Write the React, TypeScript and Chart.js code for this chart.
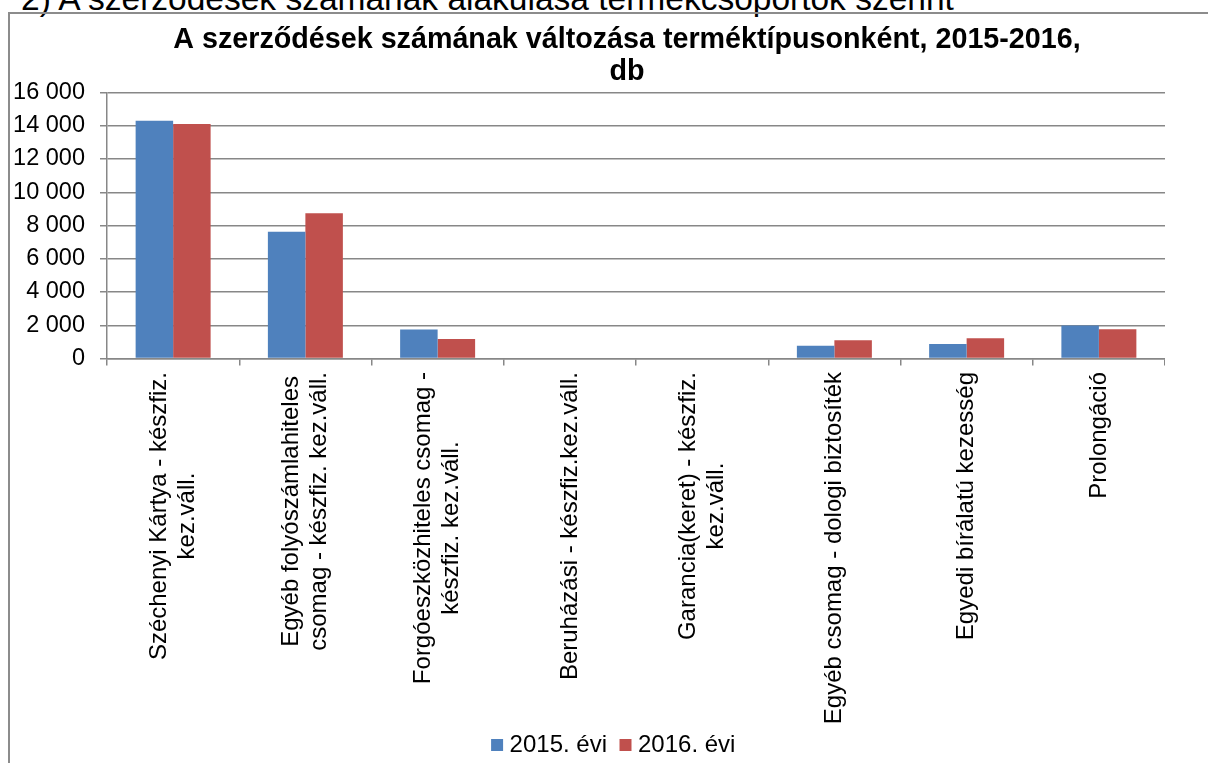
import React, { useEffect, useRef } from "react";
import { Chart, registerables } from "chart.js";

Chart.register(...registerables);

const caption = "2) A szerződések számának alakulása termékcsoportok szerint";
const titleLines = ["A szerződések számának változása terméktípusonként, 2015-2016,", "db"];
const categories: string[][] = [
  ["Széchenyi Kártya - készfiz.", "kez.váll."],
  ["Egyéb folyószámlahiteles", "csomag - készfiz. kez.váll."],
  ["Forgóeszközhiteles csomag -", "készfiz. kez.váll."],
  ["Beruházási - készfiz.kez.váll."],
  ["Garancia(keret) - készfiz.", "kez.váll."],
  ["Egyéb csomag - dologi biztosíték"],
  ["Egyedi bírálatú kezesség"],
  ["Prolongáció"],
];
const legendLabels = ["2015. évi", "2016. évi"];
const values2015 = [14300, 7630, 1740, 0, 0, 760, 870, 1980];
const values2016 = [14100, 8730, 1180, 0, 0, 1100, 1220, 1760];
const yTickLabels = ["0", "2 000", "4 000", "6 000", "8 000", "10 000", "12 000", "14 000", "16 000"];

const FONT = "'Liberation Sans', Arial, sans-serif";
const GRID = "#878787";
const BLUE = "#4F81BD";
const RED = "#C0504D";

const CANVAS_LEFT = 9;
const CANVAS_TOP = 13;
const CANVAS_W = 1156;
const CANVAS_H = 754;
const LABEL_LH = 28;

export default function App() {
  const ref = useRef<HTMLCanvasElement | null>(null);

  useEffect(() => {
    const canvas = ref.current;
    if (!canvas) return;

    const xLabelsPlugin = {
      id: "xLabelsRotated",
      afterLayout(chart: any) {
        const t = chart.titleBlock;
        if (t) {
          t.left += 38.5;
          t.right += 38.5;
        }
        const l = chart.legend;
        if (l) {
          l.left -= 20;
          l.right -= 20;
        }
      },
      afterDraw(chart: any) {
        const ctx = chart.ctx as CanvasRenderingContext2D;
        const xs = chart.scales.x;
        ctx.save();
        ctx.font = `24px ${FONT}`;
        ctx.fillStyle = "#000";
        ctx.textAlign = "center";
        ctx.textBaseline = "middle";
        const top = xs.top + 13.5;
        categories.forEach((lines, i) => {
          const x = xs.getPixelForValue(i);
          const maxW = Math.max(...lines.map((l) => ctx.measureText(l).width));
          ctx.save();
          ctx.translate(x, top + maxW / 2);
          ctx.rotate(-Math.PI / 2);
          lines.forEach((l, j) => {
            ctx.fillText(l, 0, (j - (lines.length - 1) / 2) * LABEL_LH);
          });
          ctx.restore();
        });
        ctx.restore();
      },
    };

    const chart = new Chart(canvas, {
      type: "bar",
      data: {
        labels: categories.map((l) => l.join(" ")),
        datasets: [
          {
            label: legendLabels[0],
            data: values2015,
            backgroundColor: BLUE,
            borderWidth: 0,
            categoryPercentage: 0.567,
            barPercentage: 1,
            pointStyle: "rect",
          },
          {
            label: legendLabels[1],
            data: values2016,
            backgroundColor: RED,
            borderWidth: 0,
            categoryPercentage: 0.567,
            barPercentage: 1,
            pointStyle: "rect",
          },
        ],
      },
      options: {
        responsive: false,
        animation: false,
        devicePixelRatio: 1,
        layout: { padding: { left: 3, right: 0, top: 0, bottom: 0 } },
        plugins: {
          title: {
            display: true,
            text: titleLines,
            color: "#000",
            font: { family: FONT, size: 28.7, weight: "bold", lineHeight: "32px" as any },
            padding: { top: 11, bottom: 4.5 },
          },
          legend: {
            position: "bottom",
            fullSize: false,
            labels: {
              usePointStyle: true,
              pointStyle: "rect",
              boxWidth: 1,
              boxHeight: 12,
              padding: 18,
              color: "#000",
              font: { family: FONT, size: 24 },
            },
          },
          tooltip: { enabled: false },
        },
        scales: {
          x: {
            grid: {
              display: true,
              drawOnChartArea: false,
              drawTicks: true,
              tickLength: 7,
              color: GRID,
              lineWidth: 1.5,
              offset: true,
            },
            border: { color: GRID, width: 1.5 },
            ticks: { display: false },
            afterFit(scale: any) {
              scale.height = 356.5;
            },
          },
          y: {
            min: 0,
            max: 16000,
            ticks: {
              stepSize: 2000,
              padding: 15,
              color: "#000",
              font: { family: FONT, size: 23.5 },
              callback: (_v: any, i: number) => yTickLabels[i],
            },
            grid: { color: GRID, lineWidth: 1.5, tickLength: 7 },
            border: { color: GRID, width: 1.5 },
            afterFit(scale: any) {
              scale.width = 95;
            },
          },
        },
      },
      plugins: [xLabelsPlugin],
    });

    return () => chart.destroy();
  }, []);

  return (
    <div
      style={{
        position: "fixed",
        left: 0,
        top: 0,
        width: 1208,
        height: 763,
        overflow: "hidden",
        background: "#fff",
      }}
    >
      <div
        style={{
          position: "absolute",
          left: 21,
          top: -18,
          fontFamily: FONT,
          fontSize: 33.5,
          lineHeight: "33.5px",
          whiteSpace: "nowrap",
          color: "#000",
        }}
      >
        {caption}
      </div>
      <div
        style={{
          position: "absolute",
          left: 8,
          top: 12,
          width: 1300,
          height: 900,
          border: "2px solid #8c8c8c",
          boxSizing: "border-box",
        }}
      />
      <canvas
        ref={ref}
        width={CANVAS_W}
        height={CANVAS_H}
        style={{ position: "absolute", left: CANVAS_LEFT, top: CANVAS_TOP, width: CANVAS_W, height: CANVAS_H }}
      />
    </div>
  );
}
